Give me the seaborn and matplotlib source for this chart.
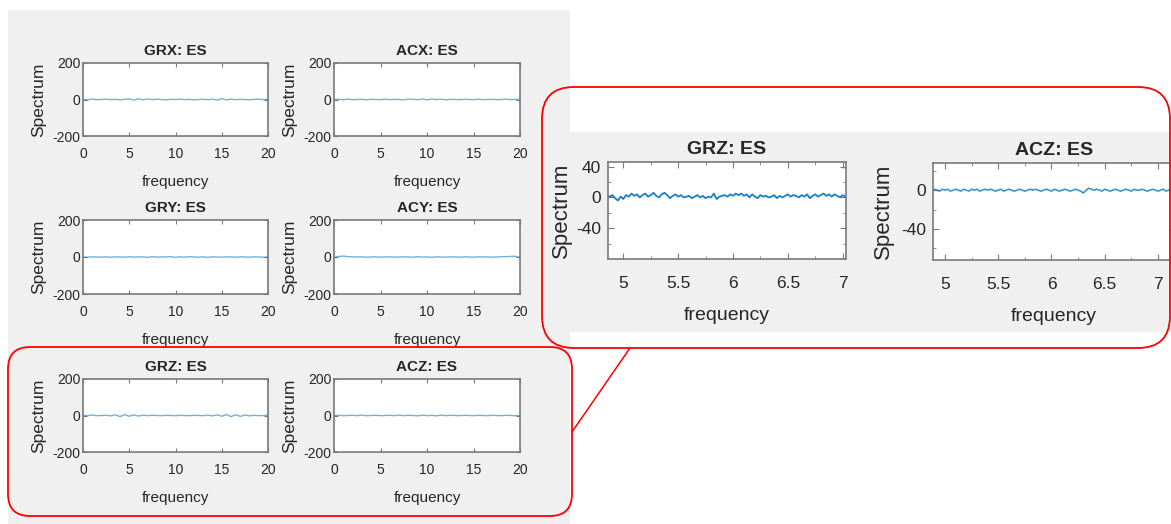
import numpy as np
import seaborn as sns
import matplotlib.pyplot as plt
from matplotlib.patches import Rectangle, FancyBboxPatch
from matplotlib.lines import Line2D
from matplotlib.transforms import IdentityTransform
from matplotlib.ticker import FixedLocator

# overview spectra, sampled every 0.5 Hz from 0 to 20
grx = [1, -2, 2, -1, 0, 2, -1, 1, -2, 1,
       3, -3, 4, -2, 3, -1, 2, 0, -2, 1,
       0, 2, -1, 1, -2, 0, 1, -1, 2, -3,
       4, -2, 2, -1, 1, 0, -2, 1, 2, -1,
       1]
acx = [0, 1, -1, 2, -1, 0, 1, -2, 1, 0,
       -1, 2, -1, 1, 0, -2, 2, 1, -1, 3,
       -2, 3, -1, 2, -2, 1, 0, -1, 1, 0,
       -1, 2, -1, 0, 1, -1, 0, 2, -1, 1,
       0]
gry = [0, -1, 1, 0, -1, 1, -2, 1, 0, -1,
       2, -1, 1, 0, -2, 2, -1, 1, 0, 2,
       -2, 1, -1, 2, 0, -1, 1, -2, 1, 0,
       -1, 1, 0, -1, 1, 0, -1, 1, 0, -1,
       0]
acy = [-4, 3, 5, 2, 1, 0, 1, -1, 0, 1,
       -1, 0, 1, -1, 0, 1, 0, -1, 2, -1,
       1, -2, 1, 0, -1, 1, 0, -1, 1, 0,
       -1, 1, 0, 1, -1, 0, 1, 2, 3, 4,
       -3]
grz = [1, -1, 2, -1, 0, 1, -2, 4, -6, 5,
       -4, 3, -3, 2, -1, 1, 0, -1, 1, 0,
       -1, 1, 0, -1, 1, 0, -1, 2, -2, 3,
       -4, 5, -6, 4, -5, 3, -2, 1, -1, 0,
       1]
acz = [0, 1, -1, 0, 1, -1, 2, -1, 0, 1,
       -1, 0, 1, -1, 2, -1, 1, 0, -2, 2,
       -1, 1, -2, 2, -1, 1, 0, -1, 1, 0,
       -1, 1, 0, -1, 1, 0, -1, 1, 0, -1,
       0]

# zoomed spectra, sampled every 0.025 Hz from 4.85
grz_zoom = [2, 1, 3, -1, -4, 1, -2, 3,
            1, 5, 2, 4, 0, 3, 5, 1,
            3, 6, 2, 0, 4, 6, 3, -1,
            2, 4, 1, 3, 0, 1, 2, -1,
            1, 3, 0, 2, -1, 1, 0, 5,
            -2, 1, 2, 3, 1, 4, 2, 5,
            3, 5, 2, 4, 0, 4, 1, -1,
            3, 1, 2, 0, 1, 3, -1, 2,
            0, 2, 4, 1, 3, 2, 0, 3,
            1, 4, -1, 2, 4, 1, 3, 5,
            2, 4, 1, 4, 2, 0, 3, 1]
acz_zoom = [0, -1, 1, 0, -1, 1, 0, 1,
            -1, 0, 1, 0, -1, 1, 0, -1,
            1, 0, 1, -1, 0, 1, 0, 1,
            0, -1, 0, 1, -1, 0, 1, 0,
            -1, 0, 1, 0, -1, 0, 1, 0,
            1, 0, -1, 0, 1, 0, -1, 1,
            0, -1, 0, 1, 0, -1, 0, 1,
            0, -1, -3, 0, 2, 1, 0, 1,
            0, -1, 1, 0, -1, 0, 1, 0,
            -1, 0, 1, 0, -1, 1, 0, 0,
            1, 0, -1, 0, 1, 0, -1, 0,
            1, -1, 0, 1, 0]

overview_titles = ["GRX: ES", "ACX: ES", "GRY: ES", "ACY: ES", "GRZ: ES", "ACZ: ES"]
overview_series = [grx, acx, gry, acy, grz, acz]

W, H = 1171, 524
LINE = "#0072BD"
FRAME = "#7a7a7a"


def add_ax(fig, x0, y0, x1, y1):
    # pixel box (top-left origin) -> figure fraction
    return fig.add_axes([x0 / W, 1 - y1 / H, (x1 - x0) / W, (y1 - y0) / H])


def style_ax(ax, tick_len):
    ax.set_facecolor("white")
    for sp in ax.spines.values():
        sp.set_visible(True)
        sp.set_color(FRAME)
        sp.set_linewidth(1.2)
    ax.tick_params(which="both", direction="in", top=True, right=True,
                   color=FRAME, labelcolor="#262626")
    ax.tick_params(which="major", length=tick_len)
    ax.tick_params(which="minor", length=tick_len * 0.6)


sns.set_style("ticks")
plt.rcParams["font.family"] = ["Liberation Sans", "DejaVu Sans"]
plt.rcParams["axes.unicode_minus"] = False

fig = plt.figure(figsize=(W / 100, H / 100), dpi=100)

# grey figure backgrounds
fig.patches.append(Rectangle((8, 0), 562, H - 10, transform=IdentityTransform(),
                             facecolor="#f0f0f0", edgecolor="none", zorder=-2))
fig.patches.append(Rectangle((548, H - 332), W - 548, 200, transform=IdentityTransform(),
                             facecolor="#f0f0f0", edgecolor="none", zorder=-2))

# left: 3x2 overview grid
cols = [(83, 268), (334, 520)]
rows = [(63, 136), (220, 294), (379, 452)]
freq = np.arange(len(grx)) * 0.5
for i, (title, vals) in enumerate(zip(overview_titles, overview_series)):
    r, c = divmod(i, 2)
    ax = add_ax(fig, cols[c][0], rows[r][0], cols[c][1], rows[r][1])
    style_ax(ax, 3)
    sns.lineplot(x=freq, y=vals, ax=ax, color=LINE, linewidth=1.0, alpha=0.55, legend=False)
    ax.set_xlim(0, 20)
    ax.set_ylim(-200, 200)
    ax.set_xticks([0, 5, 10, 15, 20])
    ax.set_yticks([-200, 0, 200])
    ax.tick_params(axis="x", labelsize=10, pad=8)
    ax.tick_params(axis="y", labelsize=10, pad=2)
    ax.set_title(title, fontsize=11, fontweight="bold", pad=6)
    ax.set_xlabel("frequency", fontsize=11, labelpad=10)
    ax.set_ylabel("Spectrum", fontsize=12.5, labelpad=4)

# right: zoomed GRZ / ACZ
zoom_specs = [
    ("GRZ: ES", grz_zoom, (608, 162, 846, 259), (4.86, 7.03), (-80, 46), [-40, 0, 40], 1.3, 0.9, 3),
    ("ACZ: ES", acz_zoom, (933, 163, 1175, 260), (4.887, 7.16), (-72, 28), [-40, 0], 1.2, 0.75, 5),
]
for title, vals, box, xlim, ylim, yt, lw, alpha, ypad in zoom_specs:
    ax = add_ax(fig, *box)
    style_ax(ax, 4)
    fz = np.arange(len(vals)) * 0.025 + 4.85
    sns.lineplot(x=fz, y=vals, ax=ax, color=LINE, linewidth=lw, alpha=alpha, legend=False)
    ax.set_xlim(*xlim)
    ax.set_ylim(*ylim)
    ax.set_xticks([5, 5.5, 6, 6.5, 7])
    ax.set_xticklabels(["5", "5.5", "6", "6.5", "7"])
    ax.xaxis.set_minor_locator(FixedLocator([5.25, 5.75, 6.25, 6.75]))
    ax.set_yticks(yt)
    ax.yaxis.set_minor_locator(FixedLocator([-60, -20, 20]))
    ax.tick_params(axis="x", labelsize=12.5, pad=12)
    ax.tick_params(axis="y", labelsize=12.5, pad=5)
    ax.set_title(title, fontsize=14, fontweight="bold", pad=6)
    ax.set_xlabel("frequency", fontsize=14, labelpad=12)
    ax.set_ylabel("Spectrum", fontsize=16, labelpad=ypad)

# red call-out boxes and connector
fig.patches.append(FancyBboxPatch((8, H - 516), 564, 169,
                                  boxstyle="round,pad=0,rounding_size=22",
                                  transform=IdentityTransform(), facecolor="none",
                                  edgecolor="red", linewidth=1.3, zorder=5))
fig.patches.append(FancyBboxPatch((542, H - 348), 628, 261,
                                  boxstyle="round,pad=0,rounding_size=32",
                                  transform=IdentityTransform(), facecolor="none",
                                  edgecolor="red", linewidth=1.3, zorder=5))
fig.lines.append(Line2D([572, 630], [H - 432, H - 348], transform=IdentityTransform(),
                        color="red", linewidth=1.1, zorder=5))

plt.savefig("out.png", dpi=100)
plt.close()
